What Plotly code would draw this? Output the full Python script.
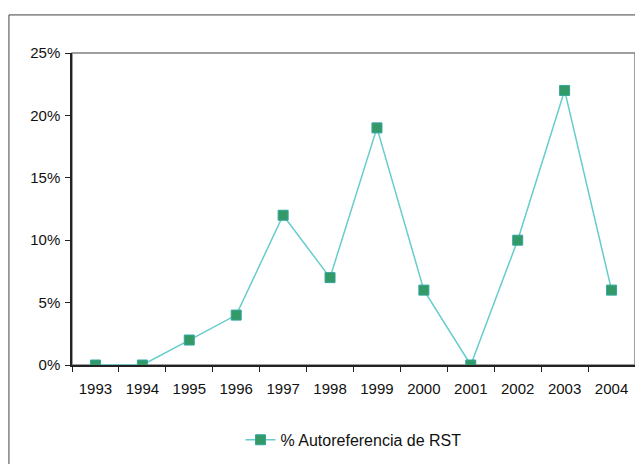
import plotly.graph_objects as go

years = ['1993', '1994', '1995', '1996', '1997', '1998',
         '1999', '2000', '2001', '2002', '2003', '2004']
autoref = [0, 0, 2, 4, 12, 7, 19, 6, 0, 10, 22, 6]
y_ticks = [0, 5, 10, 15, 20, 25]
y_labels = ['0%', '5%', '10%', '15%', '20%', '25%']

fnt = 'Liberation Sans, Arial'

fig = go.Figure()
fig.add_trace(go.Scatter(
    x=years, y=autoref, mode='lines+markers',
    name='% Autoreferencia de RST',
    line=dict(color='#66CCCC', width=1.5),
    marker=dict(symbol='square', size=10, color='#339966',
                line=dict(color='#33A5A0', width=1)),
))

# gray box round the plot area, outer frame of the chart
fig.add_shape(type='rect', xref='paper', yref='paper', x0=0, x1=1, y0=0, y1=1,
              line=dict(color='#808080', width=1.5), layer='below')
fig.add_shape(type='rect', xref='paper', yref='paper', x0=-0.112, x1=1.05, y0=-0.5, y1=1.122,
              line=dict(color='#404040', width=1), layer='below')

# page body has an 8px margin, so the figure is a bit smaller
fig.update_layout(
    width=635, height=456,
    margin=dict(l=64, r=8, t=45, b=99, autoexpand=False),
    paper_bgcolor='white', plot_bgcolor='white',
    font=dict(family=fnt, size=15, color='#111111'),
    showlegend=True,
    legend=dict(orientation='h', x=0.5, xanchor='center', y=-0.24, yanchor='middle',
                font=dict(size=16)),
    xaxis=dict(type='category', showgrid=False, showline=True, linecolor='#222222',
               linewidth=1.5, ticks='outside', tickson='boundaries', ticklen=5,
               tickcolor='#222222', range=[-0.5, 11.5], automargin=False,
               ticklabelstandoff=9),
    yaxis=dict(range=[0, 25], tickvals=y_ticks, ticktext=y_labels, showgrid=False,
               zeroline=False, showline=True, linecolor='#222222', linewidth=1.5,
               ticks='outside', ticklen=5, tickcolor='#222222', automargin=False,
               ticklabelstandoff=2),
)

fig.write_html("out.html")
